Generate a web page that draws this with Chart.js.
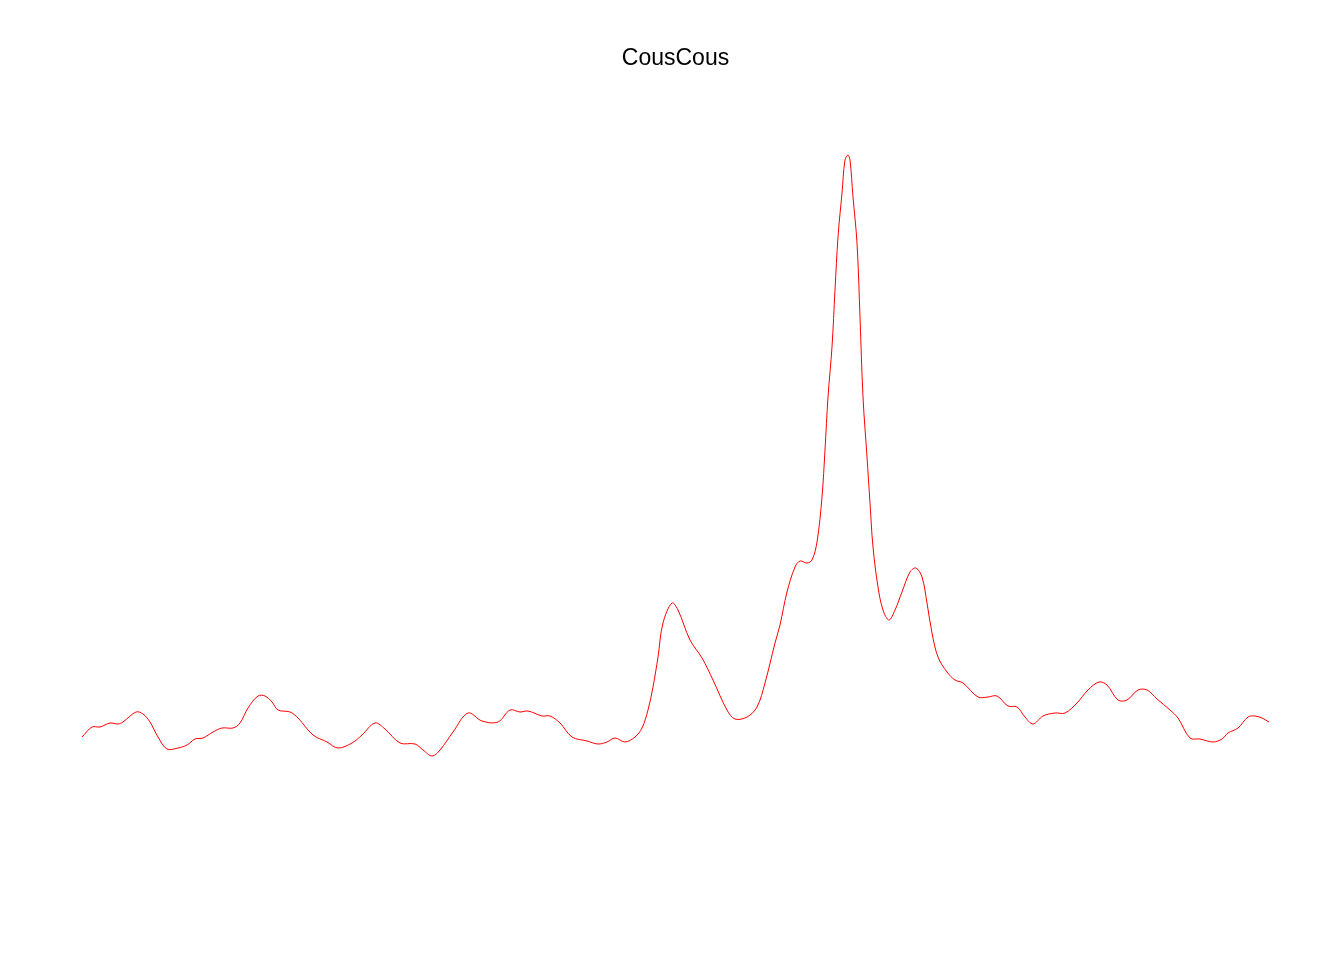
<!DOCTYPE html>
<html>
<head>
<meta charset="utf-8">
<script src="https://cdn.jsdelivr.net/npm/chart.js@4/dist/chart.umd.min.js"></script>
<style>
  html, body { margin: 0; padding: 0; background: #fff; }
  #wrap { width: 1344px; height: 960px; position: relative; }
</style>
</head>
<body>
<div id="wrap"><canvas id="couscousChart"></canvas></div>
<script>
// DATA (position along the trace, height of the trace)
const positions = [0, 10, 18, 28, 36, 41, 54, 61, 68, 76, 85, 96, 105, 113, 121, 131, 140, 151, 158, 166,
  176, 183, 190, 196, 208, 216, 231, 245, 256, 270, 280, 293, 303, 318, 333, 341, 350, 358, 371, 386,
  400, 416, 428, 438, 446, 460, 468, 478, 490, 505, 516, 525, 533, 543, 553, 560, 566, 571, 576, 581,
  590, 596, 608, 620, 631, 645, 653, 665, 675, 683, 693, 698, 705, 713, 718, 725, 730, 735, 740, 743,
  746, 750, 753, 756, 760, 763, 766, 768, 771, 775, 778, 781, 785, 788, 791, 796, 801, 807, 813, 820,
  828, 834, 840, 845, 850, 856, 865, 873, 881, 896, 906, 915, 926, 935, 943, 951, 961, 973, 983, 995,
  1006, 1017, 1025, 1036, 1045, 1056, 1065, 1075, 1088, 1096, 1108, 1118, 1131, 1140, 1146, 1156, 1166, 1173, 1180, 1187];
const heights = [23, 33, 33, 37, 36, 38, 48, 46, 38, 23, 11, 12, 15, 21, 22, 28, 32, 32, 37, 52,
  64, 64, 58, 50, 48, 42, 25, 18, 12, 17, 25, 37, 31, 17, 16, 10, 4, 10, 28, 47,
  39, 38, 50, 48, 49, 44, 44, 37, 23, 19, 16, 18, 22, 18, 23, 32, 50, 73, 103, 137,
  157, 150, 120, 102, 80, 50, 41, 43, 53, 77, 117, 135, 168, 193, 199, 197, 200, 218, 263, 310,
  363, 413, 470, 523, 567, 600, 605, 600, 563, 517, 443, 363, 303, 257, 213, 173, 150, 140, 150, 168,
  188, 192, 183, 157, 127, 103, 88, 80, 77, 63, 63, 64, 54, 53, 43, 36, 44, 47, 47, 57,
  70, 78, 75, 60, 60, 70, 70, 61, 50, 42, 22, 21, 18, 21, 27, 32, 43, 44, 42, 38];
const chartTitle = 'CousCous';

const points = positions.map((x, i) => ({ x: x, y: heights[i] }));

const ctx = document.getElementById('couscousChart').getContext('2d');
const couscousChart = new Chart(ctx, {
  type: 'line',
  data: {
    datasets: [{
      label: chartTitle,
      data: points,
      borderColor: '#ff0000',
      borderWidth: 1,
      pointRadius: 0,
      fill: false,
      tension: 0.35,
      clip: false
    }]
  },
  options: {
    responsive: true,
    maintainAspectRatio: false,
    animation: false,
    layout: { padding: { top: 0, left: 82, right: 75, bottom: 200 } },
    plugins: {
      legend: { display: false },
      tooltip: { enabled: false },
      title: {
        display: true,
        text: chartTitle,
        color: '#000',
        font: { family: '"Liberation Sans", Arial, sans-serif', size: 23, weight: 'normal', lineHeight: 1.2 },
        padding: { top: 45, bottom: 82.4 }
      }
    },
    scales: {
      x: { type: 'linear', display: false, min: 0, max: 1187 },
      y: { display: false, min: 0, max: 605 }
    }
  }
});
</script>
</body>
</html>
